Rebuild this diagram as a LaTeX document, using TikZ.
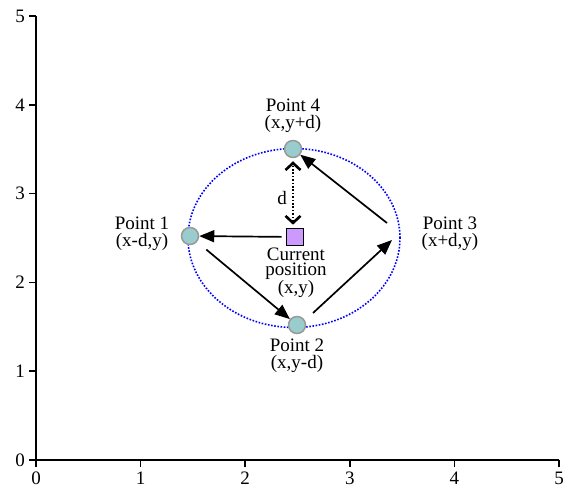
\documentclass[tikz,border=0pt]{standalone}
\usepackage{fontspec}
\setmainfont{Liberation Serif}
\usetikzlibrary{arrows.meta}
\definecolor{ptfill}{HTML}{99CCCC}
\definecolor{ptdraw}{HTML}{999999}
\definecolor{sqfill}{HTML}{CC99FF}
\begin{document}
\begin{tikzpicture}[x=1pt,y=-1pt,
  lbl/.style={align=center,inner sep=0pt,font=\fontsize{19}{17.5}\selectfont},
  tick/.style={inner sep=0pt,font=\fontsize{19}{19}\selectfont},
  pt/.style={circle,fill=ptfill,draw=ptdraw,line width=1.5pt,minimum size=17pt,inner sep=0pt},
  sq/.style={rectangle,fill=sqfill,draw=black,line width=1.6pt,minimum size=17pt,inner sep=0pt},
  arr/.style={line width=1.7pt,-{Triangle[length=15pt,width=12pt]}},
  darr/.style={line width=2.6pt,dash pattern=on 1.7pt off 1.7pt,{Straight Barb[length=7pt,width=15pt,line width=2.6pt]}-{Straight Barb[length=7pt,width=15pt,line width=2.6pt]}}]
\useasboundingbox (0,0) rectangle (563,487);
% axes
\draw[line width=2.2pt] (36,16) -- (36,460) -- (559,460);
\foreach \i in {0,...,5}{
  \pgfmathsetmacro{\xx}{36+\i*104.6}
  \pgfmathsetmacro{\yy}{460-\i*88.8}
  \draw[line width=1.7pt] (\xx,460) -- (\xx,467);
  \node[tick] (xl\i) at (\xx,478) {\i};
  \draw[line width=1.7pt] (29,\yy) -- (36,\yy);
  \node[tick,anchor=east] (yl\i) at (25,\yy) {\i};
}
% circle of radius d
\draw[blue,line width=1.6pt,dash pattern=on 1.6pt off 1.6pt] (294,238) ellipse [x radius=106pt,y radius=89.5pt];
% nodes
\node[sq] (cur) at (295,237) {};
\node[pt] (p4) at (293,149) {};
\node[pt] (p1) at (190,236) {};
\node[pt] (p2) at (297,325) {};
\coordinate (a3) at (313,313);
\coordinate (b3) at (392,240);
\coordinate (c3) at (387,223);
% arrows
\draw[arr,shorten <=4pt] (cur) -- (p1);
\draw[arr,shorten <=12pt] (p1) -- (p2);
\draw[arr] (a3) -- (b3);
\draw[arr] (c3) -- (p4);
\draw[darr,shorten <=3pt,shorten >=3pt] (p4 |- cur.north) -- (p4.south);
% labels
\node[lbl] (d) at (282,198) {d};
\node[lbl] (l4) at (293,116) {Point 4\\(x,y+d)};
\node[lbl] (l1) at (142,234) {Point 1\\(x-d,y)};
\node[lbl] (l3) at (450,234) {Point 3\\(x+d,y)};
\node[lbl] (l2) at (297,356) {Point 2\\(x,y-d)};
\node[lbl] (lc1) at (296,254) {Current};
\node[lbl] (lc2) at (296,271) {position};
\node[lbl] (lcxy) at (296,289) {(x,y)};
\end{tikzpicture}
\end{document}
